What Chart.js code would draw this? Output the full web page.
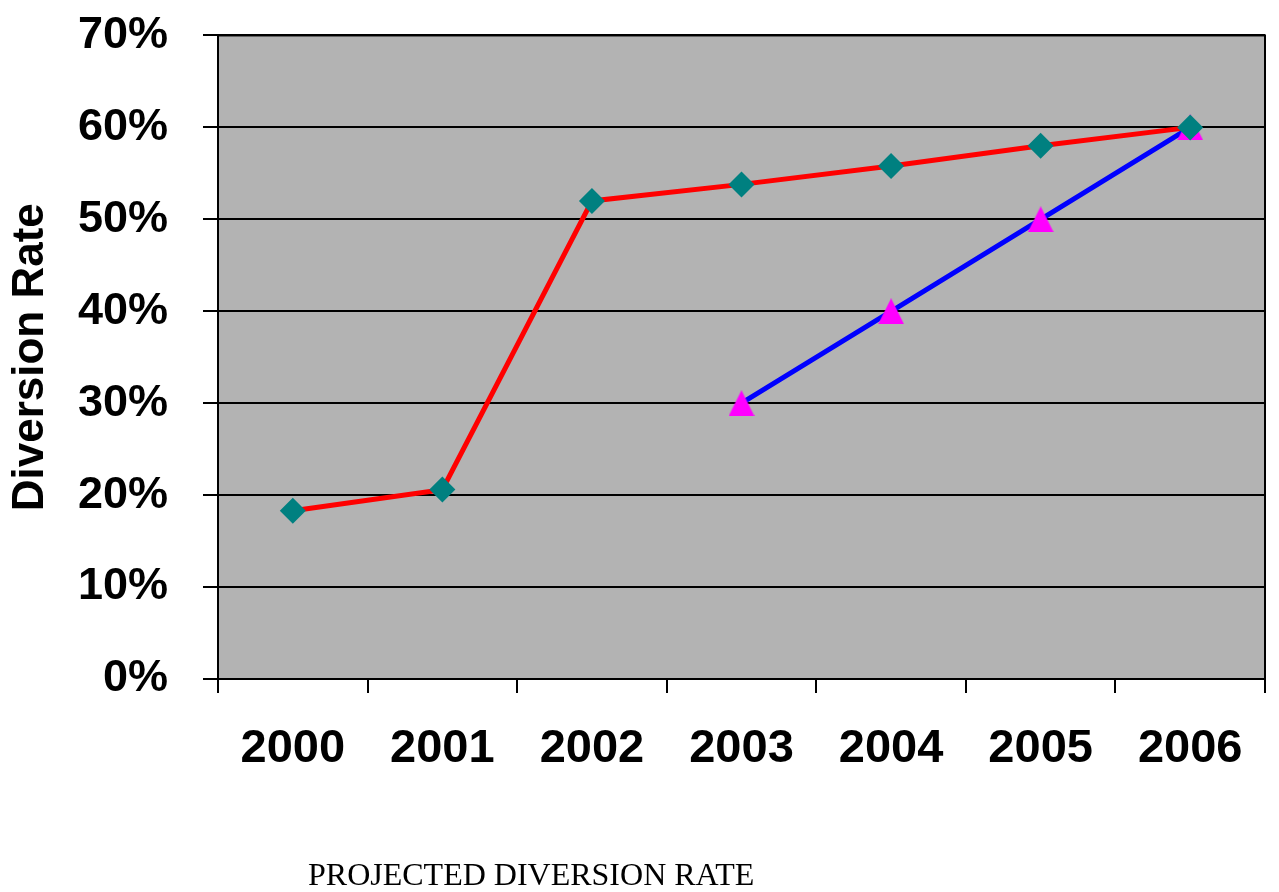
<!DOCTYPE html>
<html>
<head>
<meta charset="utf-8">
<script src="https://cdn.jsdelivr.net/npm/chart.js@4/dist/chart.umd.min.js"></script>
<style>
  html, body { margin: 0; padding: 0; background: #ffffff; }
  #wrap { position: relative; width: 1279px; height: 892px; overflow: hidden; }
  #chart { position: absolute; left: 0; top: 0; }
  #caption {
    position: absolute; left: 308px; top: 858px;
    font-family: 'Liberation Serif', 'Times New Roman', serif;
    font-size: 32px; line-height: 32px; white-space: nowrap; color: #000;
  }
</style>
</head>
<body>
<div id="wrap">
  <canvas id="chart" width="1279" height="892"></canvas>
  <div id="caption">PROJECTED DIVERSION RATE</div>
</div>
<script>
// Years on the category axis
const years = ['2000', '2001', '2002', '2003', '2004', '2005', '2006'];
// Actual diversion rate (%)
const actualRate = [18.3, 20.6, 52, 53.8, 55.8, 58, 60];
// Projected diversion rate (%), starting in 2003
const projectedRate = [null, null, null, 30, 40, 50, 60];
// Percent tick labels on the value axis
const rateTicks = ['0%', '10%', '20%', '30%', '40%', '50%', '60%', '70%'];

const FONT = "'Liberation Sans', Arial, sans-serif";

// Isosceles triangle marker, centred on its bounding box
function triangleMarker(size, color) {
  const c = document.createElement('canvas');
  c.width = size; c.height = size;
  const g = c.getContext('2d');
  g.fillStyle = color;
  g.beginPath();
  g.moveTo(size / 2, 0);
  g.lineTo(size, size);
  g.lineTo(0, size);
  g.closePath();
  g.fill();
  return c;
}

// Gray plot background and frame
const plotFrame = {
  id: 'plotFrame',
  beforeDraw(chart) {
    const { ctx, chartArea: a } = chart;
    ctx.save();
    ctx.fillStyle = '#b3b3b3';
    ctx.fillRect(a.left, a.top, a.right - a.left, a.bottom - a.top);
    ctx.restore();
  },
  beforeDatasetsDraw(chart) {
    const { ctx, chartArea: a } = chart;
    ctx.save();
    ctx.strokeStyle = '#000';
    ctx.lineWidth = 2;
    ctx.strokeRect(a.left, a.top, a.right - a.left, a.bottom - a.top);
    ctx.restore();
  }
};

new Chart(document.getElementById('chart'), {
  type: 'line',
  data: {
    labels: years,
    datasets: [
      {
        label: 'Actual',
        data: actualRate,
        borderColor: '#ff0000',
        borderWidth: 5,
        pointStyle: 'rectRot',
        pointRadius: 13,
        pointBackgroundColor: '#008080',
        pointBorderColor: '#008080',
        pointBorderWidth: 0,
        tension: 0
      },
      {
        label: 'Projected',
        data: projectedRate,
        borderColor: '#0000ff',
        borderWidth: 5,
        pointStyle: triangleMarker(26, '#ff00ff'),
        pointRadius: 13,
        pointBackgroundColor: '#ff00ff',
        pointBorderWidth: 0,
        tension: 0
      }
    ]
  },
  options: {
    responsive: false,
    animation: false,
    layout: { padding: { top: 24, right: 14, bottom: 0, left: 0 } },
    plugins: {
      legend: { display: false },
      tooltip: { enabled: false }
    },
    scales: {
      x: {
        offset: true,
        grid: {
          offset: true,
          drawOnChartArea: false,
          drawTicks: true,
          tickLength: 14,
          color: '#000',
          lineWidth: 2
        },
        border: { display: true, color: '#000', width: 2 },
        ticks: {
          color: '#000',
          padding: 28,
          font: { family: FONT, size: 47, weight: 'bold' },
          maxRotation: 0
        },
        afterFit(scale) { scale.height = 213; }
      },
      y: {
        min: 0,
        max: 70,
        grid: {
          color: '#000',
          lineWidth: 2,
          drawTicks: true,
          tickLength: 15
        },
        border: { display: true, color: '#000', width: 2 },
        ticks: {
          stepSize: 10,
          color: '#000',
          padding: 35,
          font: { family: FONT, size: 45, weight: 'bold', lineHeight: 0.02 },
          callback: (v) => rateTicks[Math.round(v / 10)]
        },
        title: {
          display: true,
          text: 'Diversion Rate',
          color: '#000',
          padding: { top: 4, bottom: 0 },
          font: { family: FONT, size: 44, weight: 'bold' }
        },
        afterFit(scale) { scale.width = 218; }
      }
    }
  },
  plugins: [plotFrame]
});
</script>
</body>
</html>
